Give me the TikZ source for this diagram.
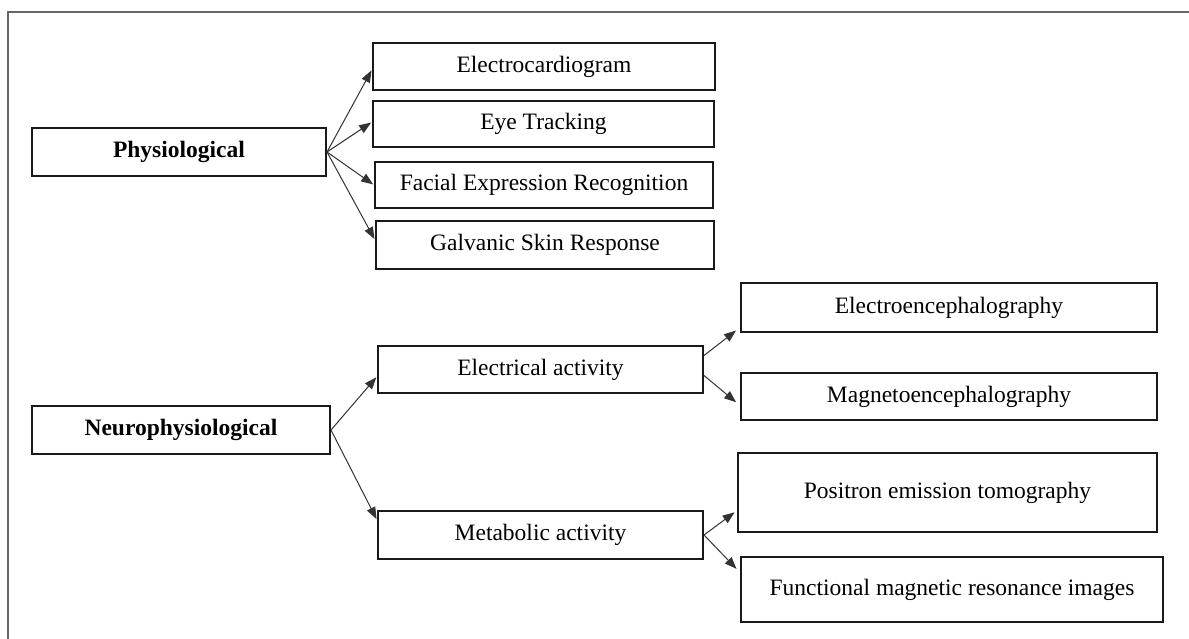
\documentclass[tikz,border=0pt]{standalone}
\usepackage{fontspec}
\setmainfont{Liberation Serif}
\usetikzlibrary{arrows.meta}
\begin{document}
\begin{tikzpicture}[x=1pt,y=-1pt,
  boxn/.style={draw=black!90, line width=2pt, rectangle, inner sep=0pt, align=center,
    font=\fontsize{23.5}{27}\selectfont},
  conn/.style={draw=black!80, line width=1pt, -{Triangle[length=12pt,width=9pt]}, shorten >=1pt}]
\useasboundingbox (0,0) rectangle (1189,639);
\draw[black!60, line width=1.2pt] (8,639) -- (8,12) -- (1189,12);

\node[boxn, minimum width=294pt, minimum height=48pt, font=\fontsize{23.5}{27}\selectfont\bfseries] (phys) at (179,152) {Physiological};
\node[boxn, minimum width=342pt, minimum height=47pt] (ecg) at (544,66.5) {Electrocardiogram};
\node[boxn, minimum width=341pt, minimum height=46pt] (eye) at (543.5,124) {Eye Tracking};
\node[boxn, minimum width=338pt, minimum height=46pt] (fac) at (544,185) {Facial Expression Recognition};
\node[boxn, minimum width=338pt, minimum height=48pt] (gsr) at (545,245) {Galvanic Skin Response};

\node[boxn, minimum width=298pt, minimum height=48pt, font=\fontsize{23.5}{27}\selectfont\bfseries] (neuro) at (181,430) {Neurophysiological};
\node[boxn, minimum width=325pt, minimum height=47pt] (elec) at (540.5,369.5) {Electrical activity};
\node[boxn, minimum width=325pt, minimum height=48pt] (meta) at (540.5,535) {Metabolic activity};
\node[boxn, minimum width=416pt, minimum height=49pt] (eeg) at (949,307.5) {Electroencephalography};
\node[boxn, minimum width=416pt, minimum height=47pt] (meg) at (949,396.5) {Magnetoencephalography};
\node[boxn, minimum width=419pt, minimum height=79pt] (pet) at (947.5,492.5) {Positron emission tomography};
\node[boxn, minimum width=422pt, minimum height=65pt] (fmri) at (952,589.5) {Functional magnetic resonance images};

\draw[conn] (phys.east) -- ([yshift=-3pt]ecg.west);
\draw[conn] (phys.east) -- ([yshift=2pt]eye.west);
\draw[conn] (phys.east) -- (fac.west);
\draw[conn] (phys.east) -- ([yshift=5pt]gsr.west);

\draw[conn] (neuro.east) -- ([yshift=-7pt]elec.west);
\draw[conn] (neuro.east) -- ([yshift=15pt]meta.west);

\draw[conn, shorten >=5pt] ([yshift=14pt]elec.east) -- ([yshift=-20pt]eeg.west);
\draw[conn, shorten >=5pt] ([yshift=-6pt]elec.east) -- ([yshift=-9pt]meg.west);
\draw[conn, shorten >=3pt] (meta.east) -- ([yshift=-18pt]pet.west);
\draw[conn, shorten >=5pt] (meta.east) -- ([yshift=17pt]fmri.west);
\end{tikzpicture}
\end{document}
